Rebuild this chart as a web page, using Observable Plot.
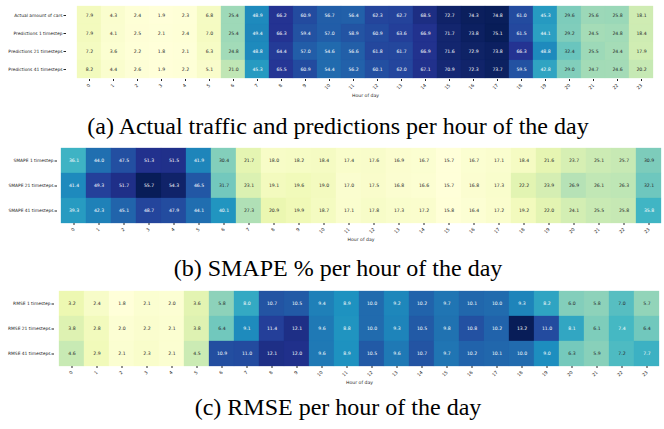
<!DOCTYPE html>
<html><head><meta charset="utf-8">
<script src="https://cdn.jsdelivr.net/npm/d3@7"></script>
<script src="https://cdn.jsdelivr.net/npm/@observablehq/plot@0.6"></script>
<style>
body{margin:0;background:#fff;width:664px;height:429px;position:relative;overflow:hidden}
.fig{position:absolute;left:0;width:664px}
.cap{position:absolute;width:664px;text-align:center;font-family:"Liberation Serif","Times New Roman",serif;font-size:24px;color:#000;line-height:1;white-space:nowrap}
</style></head><body>
<div id="a" class="fig" style="top:0px"></div>
<div class="cap" style="top:114px;left:6px">(a) Actual traffic and predictions per hour of the day</div>
<div id="b" class="fig" style="top:140px"></div>
<div class="cap" style="top:256px;left:6px">(b) SMAPE % per hour of the day</div>
<div id="c" class="fig" style="top:283px"></div>
<div class="cap" style="top:395px;left:6px">(c) RMSE per hour of the day</div>
<script>
// ---- data ----
const hours = ["0","1","2","3","4","5","6","7","8","9","10","11","12","13","14","15","16","17","18","19","20","21","22","23"];

const trafficRows = ["Actual amount of cars","Predictions 1 timestep","Predictions 21 timesteps","Predictions 41 timesteps"];
const actualCars = [7.9,4.3,2.4,1.9,2.3,6.8,25.4,48.9,66.2,60.9,56.7,56.4,62.3,62.7,68.5,72.7,74.3,74.8,61.0,45.3,29.6,25.6,25.8,18.1];
const pred1 =      [7.9,4.1,2.5,2.1,2.4,7.0,25.4,49.4,66.3,59.4,57.0,58.9,60.9,63.6,66.9,71.7,73.8,75.1,61.5,44.1,29.2,24.5,24.8,18.4];
const pred21 =     [7.2,3.6,2.2,1.8,2.1,6.3,24.8,48.8,64.4,57.0,54.6,56.6,61.8,61.7,66.9,71.6,72.9,73.8,66.3,48.8,32.4,25.5,24.4,17.9];
const pred41 =     [8.2,4.4,2.6,1.9,2.2,5.1,21.0,45.3,65.5,60.9,54.4,56.2,60.1,62.0,67.1,70.9,72.3,73.7,59.5,42.8,29.0,24.7,24.6,20.2];

const smapeRows = ["SMAPE 1 timestep","SMAPE 21 timesteps","SMAPE 41 timesteps"];
const smape1 =  [36.1,44.0,47.5,51.3,51.5,41.9,30.4,21.7,18.0,18.2,18.4,17.4,17.6,16.9,16.7,15.7,16.7,17.1,18.4,21.6,23.7,25.1,25.7,30.9];
const smape21 = [41.4,49.3,51.7,55.7,54.3,46.5,31.7,23.1,19.1,19.6,19.0,17.0,17.5,16.8,16.6,15.7,16.8,17.3,22.2,23.9,26.9,26.1,26.3,32.1];
const smape41 = [39.3,42.3,45.1,48.7,47.9,44.1,40.1,27.3,20.9,19.9,18.7,17.1,17.8,17.3,17.2,15.8,16.4,17.2,19.2,22.0,24.1,25.5,25.8,35.8];

const rmseRows = ["RMSE 1 timestep","RMSE 21 timesteps","RMSE 41 timesteps"];
const rmse1 =  [3.2,2.4,1.8,2.1,2.0,3.6,5.8,8.0,10.7,10.5,9.4,8.9,10.0,9.2,10.2,9.7,10.1,10.0,9.3,8.2,6.0,5.8,7.0,5.7];
const rmse21 = [3.8,2.8,2.0,2.2,2.1,3.8,6.4,9.1,11.4,12.1,9.6,8.8,10.0,9.3,10.5,9.8,10.8,10.2,13.2,11.0,8.1,6.1,7.4,6.4];
const rmse41 = [4.6,2.9,2.1,2.3,2.1,4.5,10.9,11.0,12.1,12.0,9.6,8.9,10.5,9.6,10.7,9.7,10.2,10.1,10.0,9.0,6.3,5.9,7.2,7.7];

const ylgnbu = ["#ffffd9","#edf8b1","#c7e9b4","#7fcdbb","#41b6c4","#1d91c0","#225ea8","#253494","#081d58"];

// ---- drawing ----
function lum(c){
  const {r,g,b} = d3.rgb(c);
  const f = x => { x/=255; return x<=0.03928 ? x/12.92 : Math.pow((x+0.055)/1.055, 2.4); };
  return 0.2126*f(r)+0.7152*f(g)+0.0722*f(b);
}

function heat({rows, series, height, marginTop, marginBottom, marginLeft}){
  const data = [];
  rows.forEach((r,i)=>series[i].forEach((v,h)=>data.push({row:r, hour:hours[h], value:v})));
  const vals = data.map(d=>d.value);
  const vmin = d3.min(vals), vmax = d3.max(vals);
  const domain = ylgnbu.map((_,i)=>vmin + i*(vmax-vmin)/(ylgnbu.length-1));
  const cs = d3.scaleLinear().domain(domain).range(ylgnbu).interpolate(d3.interpolateRgb);
  const dark = d => lum(cs(d.value)) <= 0.408;
  const txt = d => d.value.toFixed(1);
  return Plot.plot({
    width: 664, height, marginTop, marginBottom, marginLeft, marginRight: 0,
    style: {fontFamily: "DejaVu Sans", fontSize: "5px", background: "#fff", color: "#262626"},
    x: {domain: hours, padding: 0, label: null},
    y: {domain: rows, padding: 0, label: null},
    color: {type: "linear", domain, range: ylgnbu, interpolate: "rgb"},
    marks: [
      Plot.cell(data, {x:"hour", y:"row", fill:"value", stroke:"value", strokeWidth:0.3, inset:0}),
      Plot.text(data.filter(dark), {x:"hour", y:"row", text: txt, fill:"white", fontSize:4.6}),
      Plot.text(data.filter(d=>!dark(d)), {x:"hour", y:"row", text: txt, fill:"#262626", fontSize:4.6}),
      Plot.axisX({tickRotate:-45, tickSize:2, tickPadding:3, fontSize:4.6, label:"Hour of day", labelAnchor:"center", labelOffset:17}),
      Plot.axisY({tickSize:2.5, tickPadding:1.5, fontSize:4.4, label:null})
    ]
  });
}

document.getElementById("a").append(heat({rows:trafficRows, series:[actualCars,pred1,pred21,pred41], height:100, marginTop:5, marginBottom:21, marginLeft:66}));
document.getElementById("b").append(heat({rows:smapeRows, series:[smape1,smape21,smape41], height:105, marginTop:8, marginBottom:22, marginLeft:57}));
document.getElementById("c").append(heat({rows:rmseRows, series:[rmse1,rmse21,rmse41], height:105, marginTop:8, marginBottom:22, marginLeft:54}));
</script>
</body></html>
